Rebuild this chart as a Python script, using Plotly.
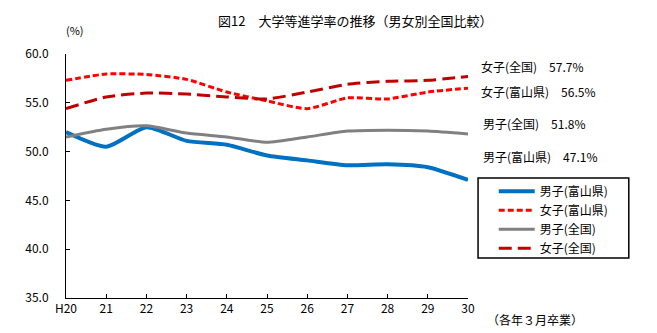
import plotly.graph_objects as go

years = ["H20", "21", "22", "23", "24", "25", "26", "27", "28", "29", "30"]
male_toyama = [52.0, 50.5, 52.5, 51.1, 50.7, 49.6, 49.1, 48.6, 48.7, 48.4, 47.1]
female_toyama = [57.3, 57.95, 57.9, 57.4, 56.1, 55.2, 54.4, 55.5, 55.4, 56.1, 56.5]
male_national = [51.5, 52.3, 52.65, 51.9, 51.5, 50.95, 51.5, 52.1, 52.2, 52.1, 51.8]
female_national = [54.4, 55.6, 56.0, 55.9, 55.6, 55.4, 56.1, 56.9, 57.2, 57.3, 57.7]

FONT = "Noto Sans CJK JP"

series = [
    ("男子(富山県)", male_toyama, "#0070C0", 4, "solid"),
    ("女子(富山県)", female_toyama, "#FF0000", 3, "6px,3px"),
    ("男子(全国)", male_national, "#808080", 3, "solid"),
    ("女子(全国)", female_national, "#C00000", 3, "13px,6px"),
]

fig = go.Figure()
for name, vals, color, w, dash in series:
    fig.add_trace(go.Scatter(
        x=years, y=vals, name=name, mode="lines",
        line=dict(color=color, width=w, dash=dash, shape="spline", smoothing=0.6),
    ))

# right-side value labels
labels = [
    ("女子(全国)", female_national, 0.947, 1.028),
    ("女子(富山県)", female_toyama, 0.848, 1.028),
    ("男子(全国)", male_national, 0.717, 1.033),
    ("男子(富山県)", male_toyama, 0.578, 1.033),
]
annotations = []
for name, vals, yp, xp in labels:
    annotations.append(dict(
        text=f"{name}\u3000{vals[-1]:.1f}%", xref="paper", yref="paper",
        x=xp, y=yp, xanchor="left", yanchor="middle", showarrow=False,
        font=dict(family=FONT, size=12, color="black"),
    ))
annotations.append(dict(
    text="図12\u3000大学等進学率の推移（男女別全国比較）", xref="paper", yref="paper",
    x=0.72, y=1.139, xanchor="center", yanchor="middle", showarrow=False,
    font=dict(family=FONT, size=13, color="black"),
))
annotations.append(dict(
    text="(%)", xref="paper", yref="paper", x=0.022, y=1.098,
    xanchor="center", yanchor="middle", showarrow=False,
    font=dict(family=FONT, size=11, color="black"),
))
annotations.append(dict(
    text="（各年３月卒業）", xref="paper", yref="paper", x=1.167, y=-0.09,
    xanchor="center", yanchor="middle", showarrow=False,
    font=dict(family=FONT, size=12, color="black"),
))

fig.update_layout(
    width=657, height=333,
    margin=dict(l=66, r=189, t=54, b=35),
    paper_bgcolor="white", plot_bgcolor="white",
    font=dict(family=FONT, size=12, color="black"),
    showlegend=True,
    legend=dict(
        x=1.064, y=0.497, xanchor="left", yanchor="top",
        borderwidth=0, bgcolor="rgba(0,0,0,0)",
        font=dict(family=FONT, size=12), tracegroupgap=0,
        itemwidth=36,
    ),
    shapes=[dict(
        type="rect", xref="paper", yref="paper",
        x0=1.025, x1=1.4, y0=0.164, y1=0.492,
        line=dict(color="black", width=1.5), fillcolor="rgba(0,0,0,0)", layer="below",
    )],
    annotations=annotations,
)
fig.update_xaxes(
    type="category", range=[0, 10], showline=True, linecolor="black", linewidth=1,
    ticks="inside", ticklen=4, tickcolor="black", showgrid=False, zeroline=False,
    tickfont=dict(family=FONT, size=12),
)
fig.update_yaxes(
    range=[35, 60], dtick=5, tickformat=".1f", showline=True, linecolor="black",
    linewidth=1, ticks="inside", ticklen=4, tickcolor="black", showgrid=False,
    zeroline=False, ticklabelstandoff=14, tickfont=dict(family=FONT, size=12),
)

fig.write_html("out.html")
